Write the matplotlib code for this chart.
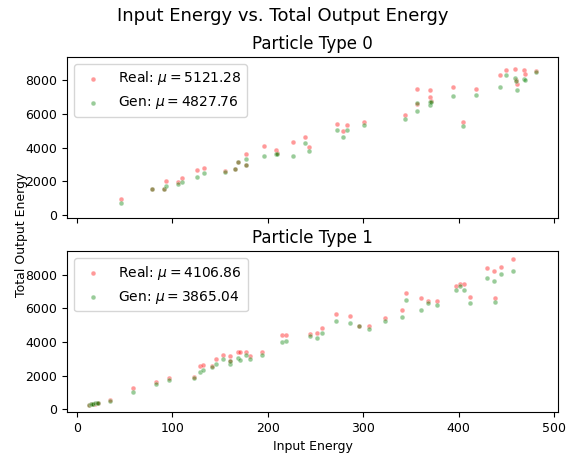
import matplotlib
matplotlib.use("Agg")
import matplotlib.pyplot as plt

# particle type 0: input energy, real output total, generated output total
input_0 = [46, 79, 91, 93, 106, 110, 126, 133, 155.5, 165.6, 169, 177, 177.5,
           196, 209, 210, 227, 239, 243.5, 272.5, 279, 283, 300.5, 344, 356,
           356.5, 369.5, 370, 370.5, 394, 404, 418, 443, 449.5, 459, 460, 461,
           468.5, 469.5, 480.7]
real_0 = [960, 1540, 1560, 2040, 1960, 2200, 2640, 2800, 2600, 2700, 3160, 3640,
          2980, 4120, 3880, 3660, 4360, 4620, 4060, 5380, 4980, 5320, 5520,
          5920, 7480, 6560, 7420, 6980, 6740, 7600, 5520, 7480, 8340, 8620,
          8680, 8000, 7760, 8600, 8400, 8540]
gen_0 = [700, 1540, 1560, 1700, 1860, 1960, 2260, 2480, 2540, 2700, 3140, 3340,
         2980, 3520, 3600, 3640, 3520, 4300, 3820, 5040, 4620, 5040, 5320,
         5680, 6640, 6160, 6720, 6520, 6700, 7060, 5260, 7120, 7600, 8320,
         8140, 7980, 7420, 8060, 8040, 8500]

# particle type 1
input_1 = [13.2, 14.5, 16, 17.5, 19.5, 21, 22.5, 35, 58.7, 83.5, 97, 123,
           128.6, 132.4, 141.2, 146, 153.7, 160.7, 161, 168.4, 170.9, 177.5,
           181.3, 193.6, 214.9, 219.1, 244.6, 251.9, 257.2, 271.5, 286.2,
           295.3, 305.7, 322.5, 341, 344.9, 361, 367.9, 377.4, 397.6, 401.8,
           405.3, 411.6, 429.5, 436.8, 437.8, 444.8, 457.3]
real_1 = [275, 290, 300, 310, 340, 360, 390, 530, 1240, 1650, 1890, 1900,
          2550, 2630, 2590, 2990, 3220, 3160, 2900, 3400, 3400, 3400, 3180,
          3420, 4440, 4400, 4500, 4540, 4840, 5670, 5550, 4950, 4950, 5410,
          5910, 6930, 6630, 6430, 6450, 7340, 7440, 7460, 6690, 8400, 8220,
          6630, 8460, 8956]
gen_1 = [280, 300, 320, 330, 350, 370, 380, 520, 1000, 1490, 1730, 1840,
         2190, 2310, 2490, 2690, 2970, 2720, 2870, 3060, 2910, 3220, 2970,
         3220, 3980, 4040, 4360, 4210, 4530, 5250, 5130, 4950, 4780, 5250,
         5490, 6490, 5890, 6330, 6190, 7100, 7300, 7090, 6310, 7800, 7620,
         6370, 8040, 8240]

mean_labels = [("5121.28", "4827.76"), ("4106.86", "3865.04")]

fig, axes = plt.subplots(2, 1, sharex=True, sharey=True, figsize=(5.66, 4.55), dpi=100)
fig.subplots_adjust(left=0.1184, right=0.986, bottom=0.0945, top=0.875, hspace=0.21)

panels = [(input_0, real_0, gen_0), (input_1, real_1, gen_1)]
for i, (ax, (x, real, gen)) in enumerate(zip(axes, panels)):
    ax.scatter(x, real, s=12, c="r", alpha=0.4, edgecolors="w", linewidths=0.5,
               label=r"Real: $\mu = %s$" % mean_labels[i][0])
    ax.scatter(x, gen, s=12, c="g", alpha=0.4, edgecolors="w", linewidths=0.5,
               label=r"Gen: $\mu = %s$" % mean_labels[i][1])
    ax.set_title("Particle Type %d" % i, fontsize=12)
    ax.set_yticks([0, 2000, 4000, 6000, 8000])
    ax.tick_params(labelsize=9)
    ax.legend(loc="upper left", fontsize=10, markerscale=1.0)

axes[1].set_xticks([0, 100, 200, 300, 400, 500])
axes[1].set_xlabel("Input Energy", fontsize=9)
fig.text(0.038, 0.485, "Total Output Energy", rotation=90, fontsize=9,
         ha="center", va="center")
fig.suptitle("Input Energy vs. Total Output Energy", fontsize=13, y=0.985)

fig.savefig("out.png", dpi=100)
